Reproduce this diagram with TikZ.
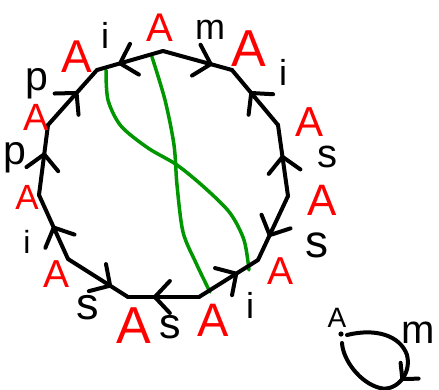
\documentclass[tikz,border=0pt]{standalone}
\usepackage{fontspec}
\setmainfont{Liberation Sans}
\usetikzlibrary{arrows.meta,decorations.markings}
\definecolor{dgreen}{RGB}{0,150,0}
\tikzset{
  redA/.style={text=red, inner sep=0pt, font=\fontsize{#1}{#1}\selectfont},
  redA/.default=40,
  lbl/.style={text=black, inner sep=0pt, font=\fontsize{#1}{#1}\selectfont},
  lbl/.default=38,
  side/.style={draw=black, line width=4pt, line cap=round, line join=round},
  gcurve/.style={draw=dgreen, line width=3.5pt, line cap=round},
  mk/.style={postaction={decorate}, decoration={markings,
      mark=at position #1 with {\arrow{Straight Barb[length=15pt,width=32pt,round]}}}},
  mksmall/.style={postaction={decorate}, decoration={markings,
      mark=at position #1 with {\arrow{Straight Barb[length=11pt,width=24pt,round]}}}},
}
\begin{document}
\begin{tikzpicture}[x=1pt,y=-1pt]
\useasboundingbox (0,0) rectangle (439,389);
% vertices
\coordinate (v0) at (163,51);
\coordinate (v1) at (232,70);
\coordinate (v2) at (278,125);
\coordinate (v3) at (288,196);
\coordinate (v4) at (258,260);
\coordinate (v5) at (199,297);
\coordinate (v6) at (128,297);
\coordinate (v7) at (68,259);
\coordinate (v8) at (39,195);
\coordinate (v9) at (48,125);
\coordinate (v10) at (97,70);
% green curves
\draw[gcurve] plot[smooth] coordinates {(152,57) (165,100) (174,145) (177,185) (183,232) (196,263) (210,292)};
\draw[gcurve] plot[smooth] coordinates {(106,70) (108,100) (121,126) (148,148) (177,165) (205,188) (230,213) (244,240) (249,270)};
% polygon sides
\draw[side, mk=0.72] (v0) -- (v1);
\draw[side, mk=0.61] (v2) -- (v1);
\draw[side, mk=0.58] (v3) -- (v2);
\draw[side, mk=0.64] (v3) -- (v4);
\draw[side, mk=0.66] (v5) -- (v4);
\draw[side, mk=0.65] (v5) -- (v6);
\draw[side, mk=0.73] (v7) -- (v6);
\draw[side, mk=0.52] (v7) -- (v8);
\draw[side, mk=0.61] (v8) -- (v9);
\draw[side, mk=0.61] (v9) -- (v10);
\draw[side, mk=0.68] (v0) -- (v10);
% red vertex labels
\node[redA=40] (a0) at (160,28) {A};
\node[redA=52] (a1) at (249,49) {A};
\node[redA=42] (a2) at (310,122) {A};
\node[redA=44] (a3) at (322,200) {A};
\node[redA=39] (a4) at (281,271) {A};
\node[redA=47] (a5) at (213,320) {A};
\node[redA=52] (a6) at (134,326) {A};
\node[redA=39] (a7) at (57,274) {A};
\node[redA=35] (a8) at (27,197) {A};
\node[redA=38] (a9) at (36,117) {A};
\node[redA=46] (a10) at (77,57) {A};
% side labels
\node[lbl=36] (l01) at (210,30) {m};
\node[lbl=36] (l12) at (283,72) {i};
\node[lbl=40] (l23) at (327,157) {s};
\node[lbl=46] (l34) at (317,245) {s};
\node[lbl=36] (l45) at (250,305) {i};
\node[lbl=43] (l56) at (170,327) {s};
\node[lbl=45] (l67) at (88,308) {s};
\node[lbl=32] (l78) at (27,242) {i};
\node[lbl=41] (l89) at (15,158) {p};
\node[lbl=41] (l910) at (37,84) {p};
\node[lbl=36] (l100) at (105,35) {i};
% small loop
\node[lbl=28] (la) at (337,318) {A};
\node[lbl=40] (lm) at (418,333) {m};
\fill (341,334) circle (2.6pt) coordinate (lv);
\draw[side, mksmall=0.53] (lv) ++(6,1) .. controls (375,328) and (400,335) .. (407,355)
   .. controls (412,375) and (395,392) .. (380,388)
   .. controls (360,383) and (343,360) .. (342,343);
\end{tikzpicture}
\end{document}
